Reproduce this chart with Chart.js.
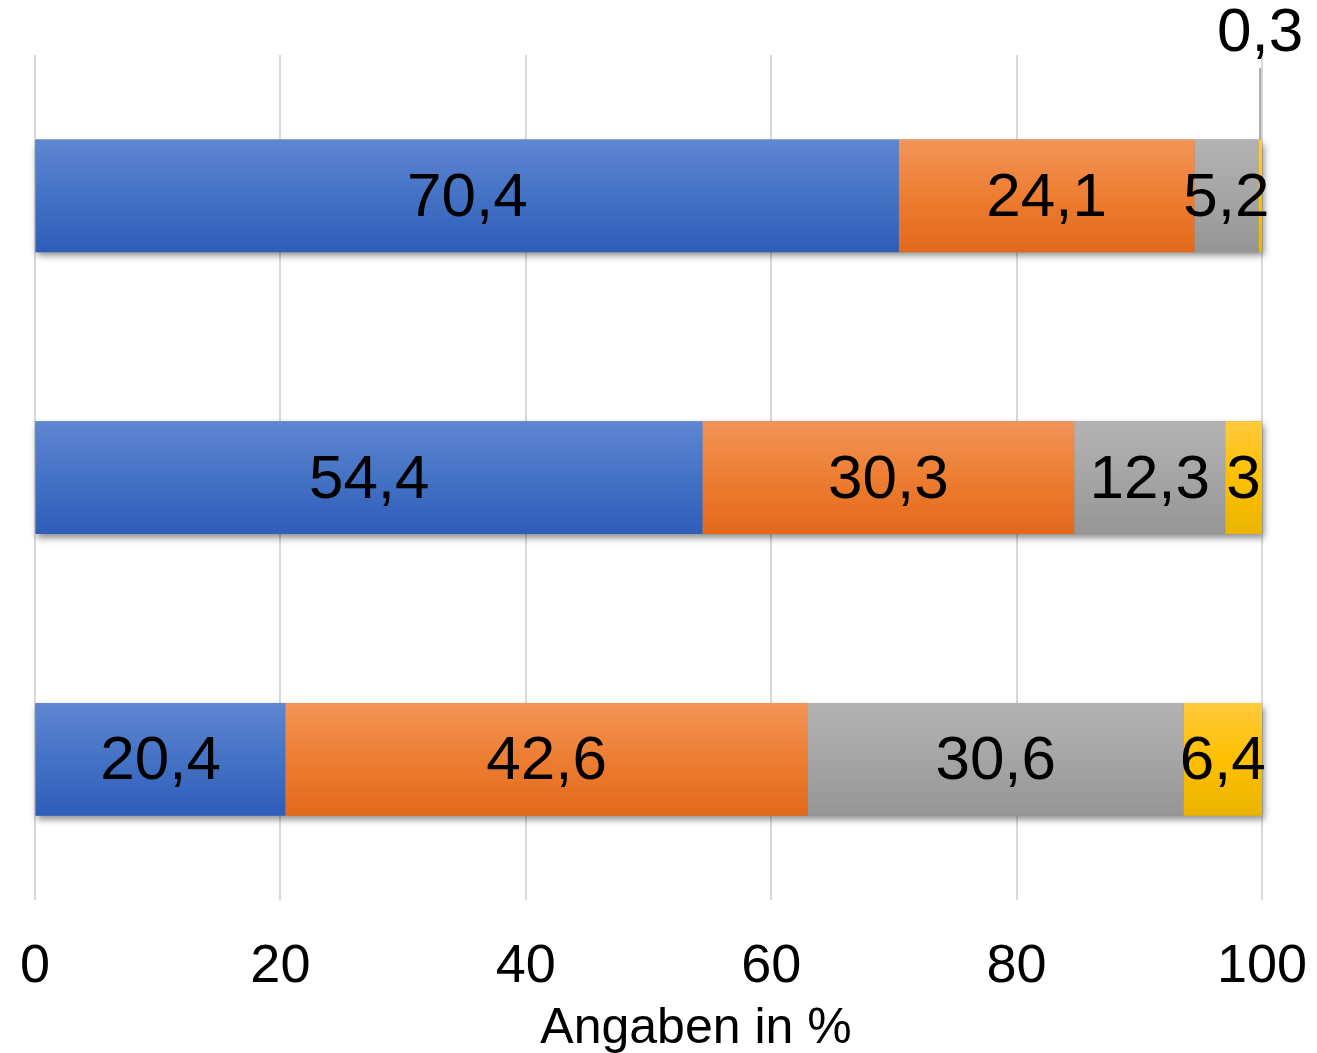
<!DOCTYPE html>
<html><head><meta charset="utf-8">
<script src="https://cdn.jsdelivr.net/npm/chart.js@4"></script>
<style>html,body{margin:0;padding:0;background:#fff}#wrap{width:1317px;height:1053px}</style>
</head><body><div id="wrap"><canvas id="c" width="1317" height="1053"></canvas></div>
<script>
const categories = ['Gruppe 1', 'Gruppe 2', 'Gruppe 3'];
const seriesA = [70.4, 54.4, 20.4];
const seriesB = [24.1, 30.3, 42.6];
const seriesC = [5.2, 12.3, 30.6];
const seriesD = [0.3, 3, 6.4];
const xTicks = [0, 20, 40, 60, 80, 100];
const axisTitle = 'Angaben in %';

const palette = [
  ['#5f86d3', '#4472c4', '#2e5dba'],
  ['#f29558', '#ed7d31', '#e2691b'],
  ['#b3b3b3', '#a5a5a5', '#959595'],
  ['#ffca3c', '#ffc000', '#e9b400']
];
const BAR_FRAC = 0.4;

function fmt(v){ return String(v).replace('.', ','); }

function gradFor(idx){
  return function(ctx){
    const chart = ctx.chart;
    const y = chart.scales.y;
    if (!chart.chartArea || !y || ctx.dataIndex === undefined) return palette[idx][1];
    const c = y.getPixelForValue(ctx.dataIndex);
    const h = (chart.chartArea.bottom - chart.chartArea.top) / categories.length * BAR_FRAC / 2;
    const g = chart.ctx.createLinearGradient(0, c - h, 0, c + h);
    g.addColorStop(0, palette[idx][0]);
    g.addColorStop(0.5, palette[idx][1]);
    g.addColorStop(1, palette[idx][2]);
    return g;
  };
}

const shadowPlugin = {
  id: 'shadow',
  beforeDatasetsDraw(chart){
    const ctx = chart.ctx, x = chart.scales.x, y = chart.scales.y;
    const h = (chart.chartArea.bottom - chart.chartArea.top) / categories.length * BAR_FRAC;
    ctx.save();
    ctx.shadowColor = 'rgba(0,0,0,0.45)';
    ctx.shadowBlur = 7;
    ctx.shadowOffsetX = 2;
    ctx.shadowOffsetY = 4;
    ctx.fillStyle = '#888';
    categories.forEach((_, i) => {
      const c = y.getPixelForValue(i);
      const x0 = x.getPixelForValue(0);
      const tot = seriesA[i] + seriesB[i] + seriesC[i] + seriesD[i];
      const x1 = x.getPixelForValue(tot);
      ctx.fillRect(x0, c - h/2, x1 - x0, h);
    });
    ctx.restore();
  }
};

const labelPlugin = {
  id: 'labels',
  afterDatasetsDraw(chart){
    const ctx = chart.ctx;
    ctx.save();
    ctx.font = '62px "Liberation Sans", Arial, sans-serif';
    ctx.fillStyle = '#000';
    ctx.textAlign = 'center';
    ctx.textBaseline = 'middle';
    chart.data.datasets.forEach((ds, di) => {
      const meta = chart.getDatasetMeta(di);
      meta.data.forEach((bar, i) => {
        const v = ds.data[i];
        const left = Math.min(bar.x, bar.base), right = Math.max(bar.x, bar.base);
        if (v < 1) {
          const cx = (left + right) / 2;
          ctx.strokeStyle = '#a6a6a6';
          ctx.lineWidth = 2;
          ctx.beginPath();
          ctx.moveTo(cx, bar.y - bar.height/2);
          ctx.lineTo(cx, 68);
          ctx.stroke();
          ctx.fillText(fmt(v), cx, 34);
        } else {
          ctx.fillText(fmt(v), (left + right) / 2, bar.y + 3);
        }
      });
    });
    ctx.restore();
  },
  afterDraw(chart){
    const ctx = chart.ctx;
    ctx.save();
    ctx.font = '50px "Liberation Sans", Arial, sans-serif';
    ctx.fillStyle = '#000';
    ctx.textAlign = 'center';
    ctx.textBaseline = 'alphabetic';
    ctx.fillText(axisTitle, 696, 1043);
    ctx.restore();
  }
};

new Chart(document.getElementById('c'), {
  type: 'bar',
  data: {
    labels: categories,
    datasets: [seriesA, seriesB, seriesC, seriesD].map((d, i) => ({
      data: d,
      backgroundColor: gradFor(i),
      borderWidth: 0,
      barPercentage: 0.8,
      categoryPercentage: 0.5
    }))
  },
  options: {
    indexAxis: 'y',
    responsive: false,
    animation: false,
    layout: { padding: { left: 35, right: 55, top: 55, bottom: 18 } },
    plugins: { legend: { display: false }, tooltip: { enabled: false } },
    scales: {
      x: {
        stacked: true, min: 0, max: 100,
        afterBuildTicks(s){ s.ticks = xTicks.map(v => ({ value: v })); },
        afterFit(s){ s.paddingLeft = 0; s.paddingRight = 0; },
        grid: { color: '#d9d9d9', lineWidth: 2, drawTicks: false },
        border: { display: false },
        ticks: { font: { family: '"Liberation Sans", sans-serif', size: 54 }, color: '#000', padding: 35, maxRotation: 0 }
      },
      y: {
        stacked: true,
        display: false,
        grid: { display: false }
      }
    }
  },
  plugins: [shadowPlugin, labelPlugin]
});
</script>
</body></html>
